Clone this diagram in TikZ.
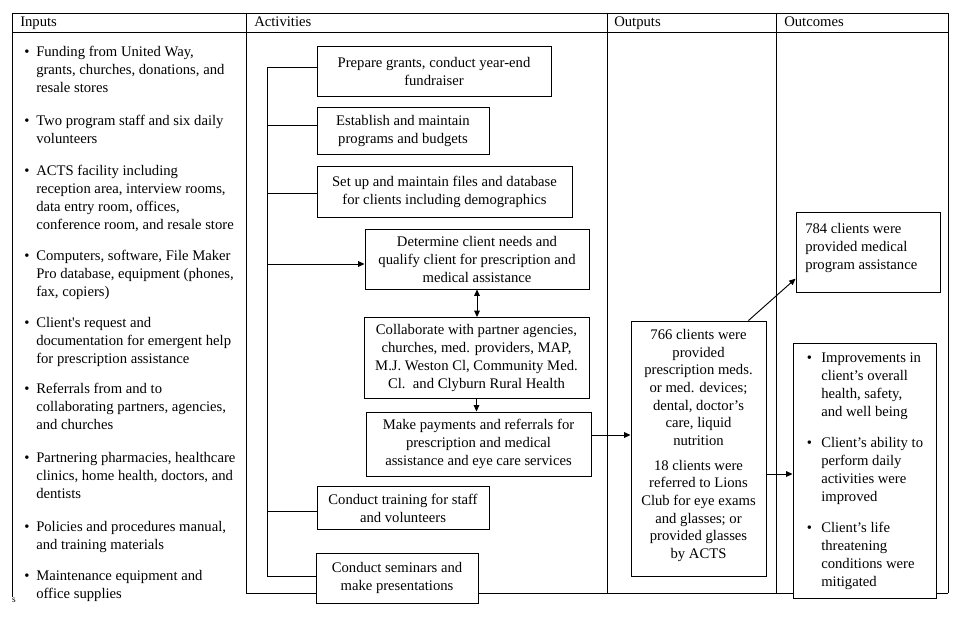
\documentclass[tikz,border=0pt]{standalone}
\usepackage{fontspec}
\setmainfont{Liberation Serif}[Ligatures=TeXOff]
\usetikzlibrary{arrows.meta}
\begin{document}
\begin{tikzpicture}[x=0.75pt,y=-0.75pt,
  every node/.style={font=\fontsize{11}{13.5}\selectfont, inner sep=0pt},
  ln/.style={line width=0.7pt},
  box/.style={draw, line width=0.7pt, fill=white, inner sep=0pt, align=center, rectangle},
  inp/.style={anchor=north west, align=left},
  tip/.tip={Triangle[length=4.8pt,width=4.2pt]},
  arr/.style={ln, -tip},
]
\useasboundingbox (0,0) rectangle (970,631);
% table frame
\draw[ln] (12,13) -- (948,13);
\draw[ln] (12,32) -- (948,32);
\draw[ln] (12,13) -- (12,597);
\draw[ln] (246,13) -- (246,593);
\draw[ln] (607,13) -- (607,593);
\draw[ln] (776,13) -- (776,593);
\draw[ln] (948,13) -- (948,593);
\draw[ln] (246,593) -- (948,593);
% headers
\node[anchor=base west] (hin) at (20,27) {Inputs};
\node[anchor=base west] (hact) at (254,27) {Activities};
\node[anchor=base west] (hout) at (614,27) {Outputs};
\node[anchor=base west] (hoc) at (784,27) {Outcomes};
% inputs
\newcommand{\ib}{\strut\llap{\textbullet\hspace{5pt}}}
\node[inp] (i1) at (36,43.4) {\ib Funding from United Way,\\grants, churches, donations, and\\resale stores};
\node[inp] (i2) at (36,112.4) {\ib Two program staff and six daily\\volunteers};
\node[inp] (i3) at (36,162.4) {\ib ACTS facility including\\reception area, interview rooms,\\data entry room, offices,\\conference room, and resale store};
\node[inp] (i4) at (36,247.4) {\ib Computers, software, File Maker\\Pro database, equipment (phones,\\fax, copiers)};
\node[inp] (i5) at (36,314.4) {\ib Client's request and\\documentation for emergent help\\for prescription assistance};
\node[inp] (i6) at (36,380.4) {\ib Referrals from and to\\collaborating partners, agencies,\\and churches};
\node[inp] (i7) at (36,449.4) {\ib Partnering pharmacies, healthcare\\clinics, home health, doctors, and\\dentists};
\node[inp] (i8) at (36,518.4) {\ib Policies and procedures manual,\\and training materials};
\node[inp] (i9) at (36,567.4) {\ib Maintenance equipment and\\office supplies};
\node[font=\fontsize{7}{8}\selectfont] (sfrag) at (14,600) {s};
% activities
\node[box, minimum width=175.5pt, minimum height=37.5pt] (b1) at (434,71) {Prepare grants, conduct year-end\\fundraiser};
\node[box, minimum width=129pt, minimum height=35.25pt] (b2) at (403,130.5) {Establish and maintain\\programs and budgets};
\node[box, minimum width=191.25pt, minimum height=38.25pt] (b3) at (444.5,191.5) {Set up and maintain files and database\\for clients including demographics};
\node[box, minimum width=168pt, minimum height=45pt] (b4) at (477,259) {Determine client needs and\\qualify client for prescription and\\medical assistance};
\node[box, minimum width=168.75pt, minimum height=60.75pt] (b5) at (476.5,358) {Collaborate with partner agencies,\\churches, med. providers, MAP,\\M.J. Weston Cl, Community Med.\\Cl.\ \ and Clyburn Rural Health};
\node[box, minimum width=168.75pt, minimum height=48pt] (b6) at (478.5,444) {Make payments and referrals for\\prescription and medical\\assistance and eye care services};
\node[box, minimum width=129pt, minimum height=32.25pt] (b7) at (403,508) {Conduct training for staff\\and volunteers};
\node[box, minimum width=121.5pt, minimum height=37.5pt] (b8) at (397,578) {Conduct seminars and\\make presentations};
% bracket
\coordinate (k1) at (267,67);
\coordinate (k2) at (267,125);
\coordinate (k3) at (267,193);
\coordinate (k4) at (267,264);
\coordinate (k7) at (267,511);
\coordinate (k8) at (267,576);
\draw[ln] (k1) -- (k8);
\draw[ln] (k1) -- (k1 -| b1.west);
\draw[ln] (k2) -- (k2 -| b2.west);
\draw[ln] (k3) -- (k3 -| b3.west);
\draw[arr] (k4) -- (k4 -| b4.west);
\draw[ln] (k7) -- (k7 -| b7.west);
\draw[ln] (k8) -- (k8 -| b8.west);
\draw[ln, tip-tip] (b4.south) -- (b4.south |- b5.north);
\draw[arr] (b5.south) -- (b5.south |- b6.north);
% outputs
\node[box, minimum width=101.25pt, minimum height=191.25pt] (outb) at (698.5,448.5) {};
\node[align=center, font=\fontsize{11}{13.2}\selectfont] (outt) at (698.5,445.5) {766 clients were\\provided\\prescription meds.\\or med. devices;\\dental, doctor’s\\care, liquid\\nutrition\\[5.6pt]18 clients were\\referred to Lions\\Club for eye exams\\and glasses; or\\provided glasses\\by ACTS};
\draw[arr] (b6.east |- 0,435) -- (outb.west |- 0,435);
% outcomes
\node[box, minimum width=108pt, minimum height=60pt] (o1) at (868,252) {};
\node[inp] (o1t) at (805,220.4) {\strut 784 clients were\\provided medical\\program assistance};
\node[box, minimum width=107.25pt, minimum height=191.25pt] (o2) at (864.5,470.5) {};
\newcommand{\ob}{\strut\llap{\textbullet\hspace{7pt}}}
\node[inp] (o2a) at (821,349.4) {\ob Improvements in\\client’s overall\\health, safety,\\and well being};
\node[inp] (o2b) at (821,434.4) {\ob Client’s ability to\\perform daily\\activities were\\improved};
\node[inp] (o2c) at (821,519.4) {\ob Client’s life\\threatening\\conditions were\\mitigated};
\draw[arr] (outb.east |- 0,474) -- (o2.west |- 0,474);
\draw[arr] ([xshift=-13.5pt]outb.north east) -- ([yshift=-20pt]o1.west);
\end{tikzpicture}
\end{document}
